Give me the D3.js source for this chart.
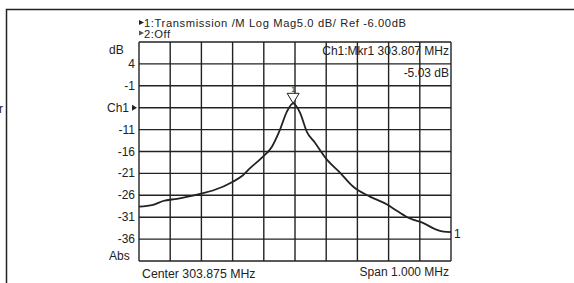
<!DOCTYPE html>
<html><head><meta charset="utf-8">
<script src="https://cdn.jsdelivr.net/npm/d3@7"></script>
<style>body{margin:0;background:#fff}svg{display:block}text{font-family:"Liberation Sans",Arial,sans-serif;fill:#222}</style>
</head><body><svg id="c" width="574" height="283"></svg>
<script>
const freqs = [303.375,303.420,303.452,303.497,303.574,303.612,303.676,303.705,303.731,303.769,303.801,303.827,303.849,303.869,303.891,303.913,303.939,303.978,304.019,304.061,304.115,304.170,304.205,304.244,304.285,304.330,304.352,304.375];
const magDb = [-28.6,-28.2,-27.3,-26.8,-25.6,-24.9,-22.9,-21.6,-19.8,-17.4,-14.9,-11.0,-6.9,-5.0,-7.1,-11.5,-14.0,-17.9,-20.8,-24.0,-26.3,-28.1,-29.7,-31.3,-32.3,-33.9,-34.3,-34.4];
const yTickValues = [4,-1,-6,-11,-16,-21,-26,-31,-36];
const yTickLabels = ["4","-1","Ch1","-11","-16","-21","-26","-31","-36"];
const markerFreq = 303.869, markerDb = -5.0;
const headerLines = ["1:Transmission /M Log Mag5.0 dB/ Ref -6.00dB","2:Off"];
const markerText = ["Ch1:Mkr1 303.807 MHz","-5.03 dB"];
const centerText = "Center 303.875 MHz", spanText = "Span 1.000 MHz";

const svg = d3.select("#c");
const L=139,R=451,T=42,B=261;
const x = d3.scaleLinear().domain([303.375,304.375]).range([L,R]);
const y = d3.scaleLinear().domain([-41,9]).range([B,T]);
const ink="#222";
const fs=12;

// outer frame
svg.append("path").attr("d","M6.5,283 V9.5 H574").attr("fill","none").attr("stroke",ink).attr("stroke-width",1.5);
svg.append("text").attr("x",-1).attr("y",113).attr("font-size",fs).text("r");

// grid
const g = svg.append("g");
g.selectAll(".v").data(d3.range(11)).join("line")
 .attr("x1",i=>x(303.375+i*0.1)).attr("x2",i=>x(303.375+i*0.1))
 .attr("y1",T).attr("y2",B).attr("stroke",ink).attr("stroke-width",1.4);
g.selectAll(".h").data(d3.range(-41,10,5)).join("line")
 .attr("x1",L).attr("x2",R).attr("y1",d=>y(d)).attr("y2",d=>y(d)).attr("stroke",ink).attr("stroke-width",1.4);

// y labels
svg.selectAll(".yl").data(yTickValues).join("text")
 .attr("x",(d,i)=>yTickLabels[i]==="Ch1"?129:135).attr("y",d=>y(d)+4).attr("text-anchor","end").attr("font-size",fs)
 .text((d,i)=>yTickLabels[i]);
svg.append("path").attr("d",`M132,${y(-6)-3} L137,${y(-6)} L132,${y(-6)+3} Z`).attr("fill",ink);
svg.append("text").attr("x",109).attr("y",54).attr("font-size",fs).text("dB");
svg.append("text").attr("x",109).attr("y",260).attr("font-size",fs).text("Abs");

// header
headerLines.forEach((t,i)=>{
  const by=27+i*10.5;
  svg.append("path").attr("d",`M139,${by-7} L144,${by-4.5} L139,${by-2} Z`).attr("fill",i===0?ink:"#555");
  const tx=svg.append("text").attr("x",144).attr("y",by).attr("font-size",11.2).text(t);
  if(i===0) tx.attr("textLength",262).attr("lengthAdjust","spacing");
  else tx.attr("textLength",26).attr("lengthAdjust","spacing");
});

// marker readout
markerText.forEach((t,i)=>svg.append("text").attr("x",449).attr("y",55+i*22).attr("text-anchor","end").attr("font-size",fs).text(t));

// bottom
svg.append("text").attr("x",142).attr("y",278).attr("font-size",fs+0.3).text(centerText);
svg.append("text").attr("x",449).attr("y",276).attr("text-anchor","end").attr("font-size",fs).text(spanText);

// trace
const line = d3.line().x((d,i)=>x(freqs[i])).y(d=>y(d)).curve(d3.curveMonotoneX);
svg.append("path").attr("d",line(magDb)).attr("fill","none").attr("stroke",ink).attr("stroke-width",1.8);
svg.append("text").attr("x",454).attr("y",238).attr("font-size",fs).text("1");

// marker
const mx=x(markerFreq), my=y(markerDb);
svg.append("path").attr("d",`M${mx-6},${my-10} H${mx+6} L${mx},${my} Z`).attr("fill","#fff").attr("stroke",ink).attr("stroke-width",1);
svg.append("text").attr("x",mx).attr("y",my-11).attr("text-anchor","middle").attr("font-size",7).text("1");
</script></body></html>
